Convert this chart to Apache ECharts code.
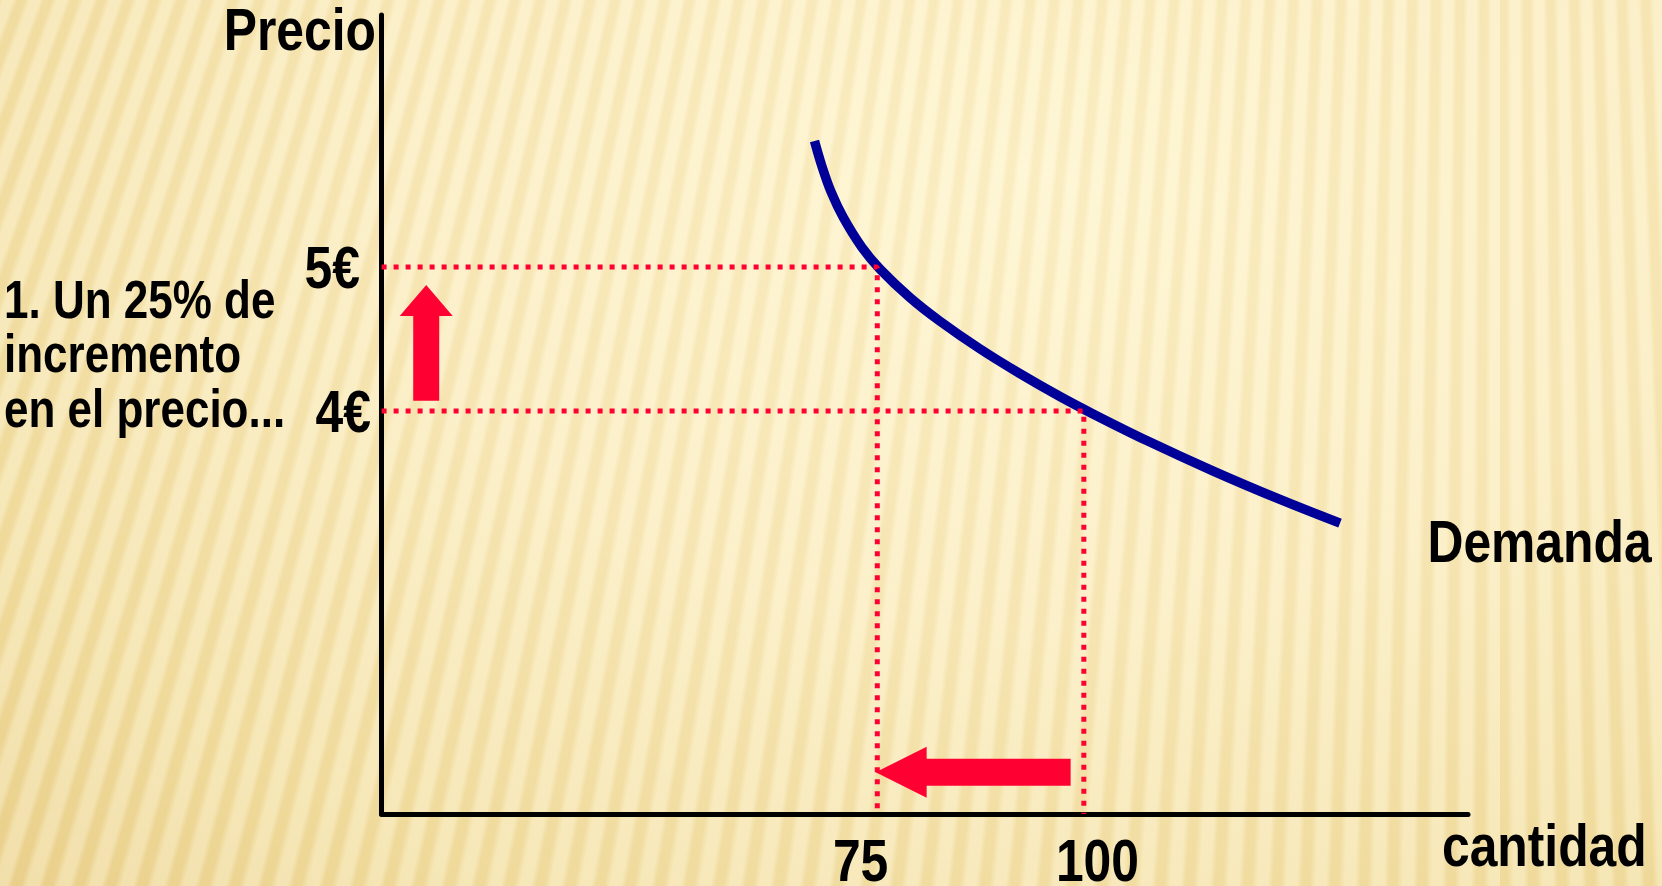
<!DOCTYPE html>
<html>
<head>
<meta charset="utf-8">
<title>Demanda</title>
<script src="https://cdn.jsdelivr.net/npm/echarts@6.0.0/dist/echarts.min.js"></script>
<style>
    html, body { margin: 0; padding: 0; }
    #chart {
        width: 1662px;
        height: 886px;
        background:
            repeating-conic-gradient(from 180deg at 1500px -4000px,
                rgba(255,250,228,0.32) 0deg, rgba(255,250,228,0.32) 0.12deg,
                rgba(215,180,90,0.11) 0.19deg, rgba(215,180,90,0.11) 0.28deg,
                rgba(255,250,228,0.32) 0.34deg),
            radial-gradient(ellipse at 62% 20%, #FEF4CE 0%, #FAEBBD 45%, #F2DEA2 80%, #EBD290 100%);
    }
</style>
</head>
<body>
<div id="chart"></div>
<script>
// curva de demanda (cantidad, precio)
const demandQty = [67.4, 68.31, 69.4, 70.89, 73.15, 75.33, 78.96, 82.59, 87.43, 92.27, 97.11, 101.11, 107.61, 115.67, 123.74, 131.01];
const demandPrice = [5.875, 5.697, 5.522, 5.343, 5.135, 4.985, 4.787, 4.623, 4.431, 4.259, 4.100, 3.979, 3.794, 3.582, 3.385, 3.220];

// marcas de los ejes
const priceTicks = [4, 5];
const qtyTicks = [75, 100];

// flechas: desde -> hasta (en unidades de los ejes)
const arrowFrom = [[20.4, 4.07], [98.4, 1.49]];
const arrowTo = [[20.4, 4.875], [74.8, 1.49]];

const xMin = 15, xMax = 146.5;
const yMin = 1.2, yMax = 6.75;

const FONT = "'Liberation Sans', Arial, sans-serif";
const RED = '#FF0033';
const NARROW = 0.83;   // simula Arial Narrow
const headLen = [31, 51];
const headW = [53, 51];
const shaftW = [26, 27];
const priceLabelDx = [-10.6, -21.6];
const qtyLabelDx = [-16.7, 13.6];

let chart = echarts.init(document.getElementById('chart'));

const guideStyle = { color: RED, width: 5, type: [5, 7] };
const hiddenAxis = {
    axisLine: { onZero: false, lineStyle: { color: '#000', width: 5 } },
    axisTick: { show: false },
    splitLine: { show: false },
    axisLabel: { show: false }
};

chart.setOption({
    backgroundColor: 'transparent',
    animation: false,
    grid: { left: 381.6, right: 194, top: 15, bottom: 72, containLabel: false },
    xAxis: Object.assign({ type: 'value', min: xMin, max: xMax }, hiddenAxis),
    yAxis: Object.assign({ type: 'value', min: yMin, max: yMax }, hiddenAxis),
    series: [
        {
            name: 'Demanda',
            type: 'line',
            smooth: 0.35,
            symbol: 'none',
            data: demandQty.map((q, i) => [q, demandPrice[i]]),
            lineStyle: { color: '#000099', width: 9.5 },
            z: 3
        },
        {
            type: 'line',
            symbol: 'none',
            data: [[xMin, 5], [75, 5], [75, yMin]],
            lineStyle: guideStyle,
            z: 4
        },
        {
            type: 'line',
            symbol: 'none',
            data: [[xMin, 4], [100, 4], [100, yMin]],
            lineStyle: guideStyle,
            z: 4
        },
        {
            type: 'custom',
            data: arrowFrom.map((f, i) => [f[0], f[1], arrowTo[i][0], arrowTo[i][1]]),
            encode: { x: [0, 2], y: [1, 3] },
            renderItem: function (params, api) {
                const i = params.dataIndex;
                const a = api.coord([api.value(0), api.value(1)]);
                const b = api.coord([api.value(2), api.value(3)]);
                const dx = b[0] - a[0], dy = b[1] - a[1];
                const len = Math.sqrt(dx * dx + dy * dy);
                const ux = dx / len, uy = dy / len;
                const nx = -uy, ny = ux;
                const hx = b[0] - ux * headLen[i], hy = b[1] - uy * headLen[i];
                const s = shaftW[i] / 2, h = headW[i] / 2;
                return {
                    type: 'polygon',
                    shape: {
                        points: [
                            [a[0] + nx * s, a[1] + ny * s],
                            [hx + nx * s, hy + ny * s],
                            [hx + nx * h, hy + ny * h],
                            [b[0], b[1]],
                            [hx - nx * h, hy - ny * h],
                            [hx - nx * s, hy - ny * s],
                            [a[0] - nx * s, a[1] - ny * s]
                        ]
                    },
                    style: { fill: RED }
                };
            },
            z: 5
        }
    ]
});

// textos en fuente estrecha, colocados con la escala de los ejes
function txt(x, y, text, align, size, lineHeight) {
    return {
        type: 'text',
        x: x,
        y: y,
        scaleX: NARROW,
        z: 10,
        style: {
            text: text,
            font: 'bold ' + size + 'px ' + FONT,
            lineHeight: lineHeight || size,
            fill: '#000',
            align: align,
            verticalAlign: 'middle',
            textAlign: align,
            textVerticalAlign: 'middle'
        }
    };
}

function drawLabels() {
    const px = p => chart.convertToPixel({ gridIndex: 0 }, p);
    const els = [];
    const top = px([xMin, yMax]);
    const corner = px([xMin, yMin]);
    const end = px([xMax, yMin]);
    const last = px([demandQty[demandQty.length - 1], demandPrice[demandPrice.length - 1]]);

    els.push(txt(top[0] - 5.6, top[1] + 18, 'Precio', 'right', 60));
    priceTicks.forEach((v, i) => {
        const p = px([xMin, v]);
        els.push(txt(p[0] + priceLabelDx[i], p[1] + 4.5, v + '€', 'right', 60));
    });
    qtyTicks.forEach((v, i) => {
        const p = px([v, yMin]);
        els.push(txt(p[0] + qtyLabelDx[i], corner[1] + 50, String(v), 'center', 60));
    });
    els.push(txt(end[0] + 178.7, end[1] + 35.3, 'cantidad', 'right', 60));
    els.push(txt(last[0] + 87.4, last[1] + 22.3, 'Demanda', 'left', 60));
    els.push(txt(4, 357.5, '1. Un 25% de\nincremento\nen el precio...', 'left', 53, 54.5));

    chart.setOption({ graphic: els }, { replaceMerge: ['graphic'] });
}

drawLabels();

window.addEventListener('resize', function () {
    chart.resize();
    drawLabels();
});
</script>
</body>
</html>
